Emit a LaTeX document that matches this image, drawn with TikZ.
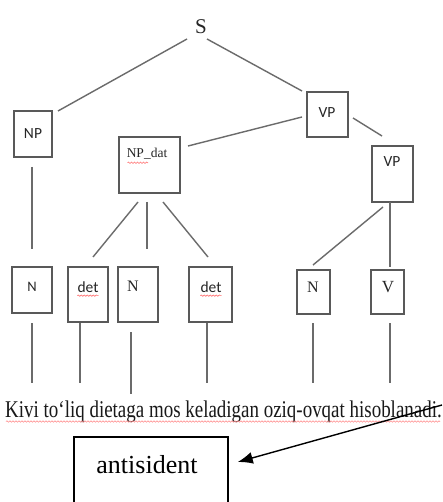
\documentclass[tikz,border=0pt]{standalone}
\usepackage{fontspec}
\usepackage{graphicx}
\setmainfont{Liberation Serif}
\newfontfamily\carl{Carlito}
\newfontfamily\condserif[FakeStretch=0.79]{Liberation Serif}
\usetikzlibrary{calc,arrows.meta,decorations.pathmorphing}
\begin{document}
\begin{tikzpicture}[x=1pt,y=-1pt,
  tline/.style={draw=black!58,line width=1.4pt},
  tbox/.style={draw=black!65,line width=1.6pt,inner sep=0pt},
  sanslbl/.style={text=black!85,inner sep=0pt,font=\carl\fontsize{15.5}{18}\selectfont},
  seriflbl/.style={text=black!85,inner sep=0pt,font=\fontsize{16}{18}\selectfont},
  spell/.style={draw=red!55,line width=0.6pt,decorate,decoration={snake,amplitude=0.7pt,segment length=3pt}}]
\useasboundingbox (0,0) rectangle (442,502);
\clip (0,0) rectangle (442,502);
\fill[white] (0,0) rectangle (442,502);

% root
\node[text=black!85,inner sep=0pt,font=\fontsize{21}{24}\selectfont] (s) at (201,27) {S};

% boxes
\node[tbox,minimum width=38pt,minimum height=46pt] (np) at (33,134) {};
\node[tbox,minimum width=41pt,minimum height=45pt] (vp) at (327.5,114.5) {};
\node[tbox,minimum width=61pt,minimum height=56pt] (npdat) at (149.5,165) {};
\node[tbox,minimum width=41pt,minimum height=56pt] (vpb) at (392.5,174) {};
\node[tbox,minimum width=40pt,minimum height=46pt] (n1) at (32,290) {};
\node[tbox,minimum width=40pt,minimum height=55pt] (det1) at (88,294.5) {};
\node[tbox,minimum width=40pt,minimum height=55pt] (n2) at (138,294.5) {};
\node[tbox,minimum width=43pt,minimum height=55pt] (det2) at (210.5,294.5) {};
\node[tbox,minimum width=33pt,minimum height=44pt] (n3) at (313.5,292) {};
\node[tbox,minimum width=33pt,minimum height=44pt] (v) at (387.5,292) {};

% box labels
\node[sanslbl] (npt) at (33,134) {NP};
\node[sanslbl] (vpt) at (327,113) {VP};
\node[sanslbl] (vpbt) at (392,162) {VP};
\node[seriflbl,font=\fontsize{13.5}{15}\selectfont] (npdatt) at (147,154) {NP\_dat};
\node[sanslbl,font=\carl\fontsize{14.5}{17}\selectfont] (n1t) at (32,287) {N};
\node[sanslbl] (det1t) at (88,287) {det};
\node[seriflbl] (n2t) at (133,286) {N};
\node[sanslbl] (det2t) at (211,287) {det};
\node[seriflbl] (n3t) at (313,287) {N};
\node[seriflbl,font=\fontsize{17}{19}\selectfont] (vt) at (388,287) {V};

% spell-check marks
\draw[spell] ($(npdatt.south west)+(1,3)$) -- ($(npdatt.south)+(1,3)$);
\draw[spell] ($(det1t.south west)+(0,3)$) -- ($(det1t.south east)+(0,3)$);
\draw[spell] ($(det2t.south west)+(0,3)$) -- ($(det2t.south east)+(0,3)$);

% tree connectors
\draw[tline] ($(s)+(-14,12)$) -- ($(np)+(25,-23)$);
\draw[tline] ($(s)+(6,12)$) -- ($(vp)+(-25.5,-23.5)$);
\draw[tline] ($(vp)+(-25.5,2.5)$) -- ($(npdat)+(38.5,-19)$);
\draw[tline] ($(vp)+(25.5,3.5)$) -- ($(vpb)+(-10.5,-38)$);
\draw[tline] ($(np)+(-1,33)$) -- ($(n1)+(0,-41)$);
\draw[tline] ($(npdat)+(-11.5,37)$) -- ($(det1)+(5,-37.5)$);
\draw[tline] ($(npdat)+(-2.5,37)$) -- ($(n2)+(9,-45.5)$);
\draw[tline] ($(npdat)+(13.5,37)$) -- ($(det2)+(-2.5,-37.5)$);
\draw[tline] ($(vpb)+(-9.5,33)$) -- ($(n3)+(-0.5,-27)$);
\draw[tline] ($(vpb)+(-2.5,28)$) -- ($(v)+(2.5,-25)$);

% word coordinates
\coordinate (w1) at (32,383);
\coordinate (w2) at (80,383);
\coordinate (w3) at (131,394);
\coordinate (w4) at (207,383);
\coordinate (w5) at (313,383);
\coordinate (w6) at (390,383);
\draw[tline] ($(n1)+(0,33)$) -- (w1);
\draw[tline] ($(det1)+(-8,28.5)$) -- (w2);
\draw[tline] ($(n2)+(-7,37.5)$) -- (w3);
\draw[tline] ($(det2)+(-3.5,28.5)$) -- (w4);
\draw[tline] ($(n3)+(-0.5,31)$) -- (w5);
\draw[tline] ($(v)+(2.5,31)$) -- (w6);

% sentence
\node[anchor=base,inner sep=0pt,text=black!90,font=\condserif\fontsize{24}{28}\selectfont] (sent) at (223.5,417)
  {Kivi to‘liq dietaga mos keladigan oziq-ovqat hisoblanadi.};
\draw[spell,draw=red!45] (6,421.5) -- (440,421.5);

% antisident box
\node[draw=black,line width=1.5pt,minimum width=154pt,minimum height=93pt,inner sep=0pt] (ant) at (151,483.5) {};
\node[anchor=base,inner sep=0pt,font=\fontsize{26}{30}\selectfont] (antt) at (147,473) {antisident};
\coordinate (as) at (442,405);
\draw[line width=1.4pt,-{Latex[length=15pt,width=12pt]}] (as) -- ($(ant.east)+(9,-21.5)$);
\end{tikzpicture}
\end{document}
